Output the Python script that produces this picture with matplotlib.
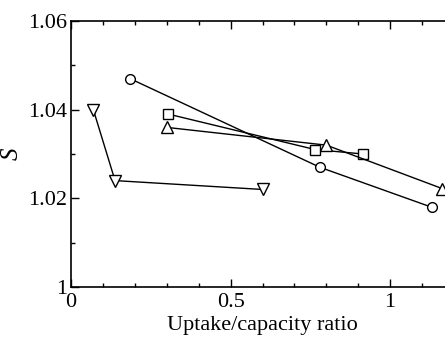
import matplotlib
matplotlib.use("Agg")
import matplotlib.pyplot as plt
from matplotlib.ticker import MultipleLocator

plt.rcParams['font.family'] = ['Liberation Serif', 'DejaVu Serif']
plt.rcParams['mathtext.fontset'] = 'custom'
plt.rcParams['mathtext.it'] = 'Liberation Serif:italic'

# series
circ_x = [0.185, 0.78, 1.13]
circ_y = [1.047, 1.027, 1.018]
sq_x = [0.305, 0.765, 0.915]
sq_y = [1.039, 1.031, 1.030]
tri_x = [0.30, 0.80, 1.163]
tri_y = [1.036, 1.032, 1.0222]
dn_x = [0.07, 0.138, 0.60]
dn_y = [1.040, 1.024, 1.022]

xticks = [0, 0.5, 1]
xticklabels = ['0', '0.5', '1']
yticks = [1.0, 1.02, 1.04, 1.06]
yticklabels = ['1', '1.02', '1.04', '1.06']

fig = plt.figure(figsize=(4.45, 3.41), dpi=100)
ax = fig.add_axes([71/445, 54/341, 383/445, 266/341])

kw = dict(color='black', lw=1.0, markerfacecolor='white',
          markeredgecolor='black', markeredgewidth=1.0, clip_on=False)
ax.plot(circ_x, circ_y, marker='o', markersize=7, **kw)
ax.plot(sq_x, sq_y, marker='s', markersize=7, **kw)
ax.plot(tri_x, tri_y, marker='^', markersize=8, **kw)
ax.plot(dn_x, dn_y, marker='v', markersize=8, **kw)

ax.set_xlim(0, 1.2)
ax.set_ylim(1.0, 1.06)
ax.set_xticks(xticks)
ax.set_xticklabels(xticklabels)
ax.set_yticks(yticks)
ax.set_yticklabels(yticklabels)
ax.xaxis.set_minor_locator(MultipleLocator(0.1))
ax.yaxis.set_minor_locator(MultipleLocator(0.01))
ax.tick_params(which='both', direction='in', top=True, right=True,
               labelsize=16, width=1.0)
ax.tick_params(axis='x', which='major', length=6, pad=4)
ax.tick_params(axis='y', which='major', length=6, pad=3)
ax.tick_params(which='minor', length=3)
for s in ax.spines.values():
    s.set_linewidth(1.2)

ax.set_xlabel('Uptake/capacity ratio', fontsize=16, labelpad=3)
ax.set_ylabel('$S$', fontsize=18)
ax.yaxis.set_label_coords(-0.125, 0.5)

fig.savefig('out.png', dpi=100)
